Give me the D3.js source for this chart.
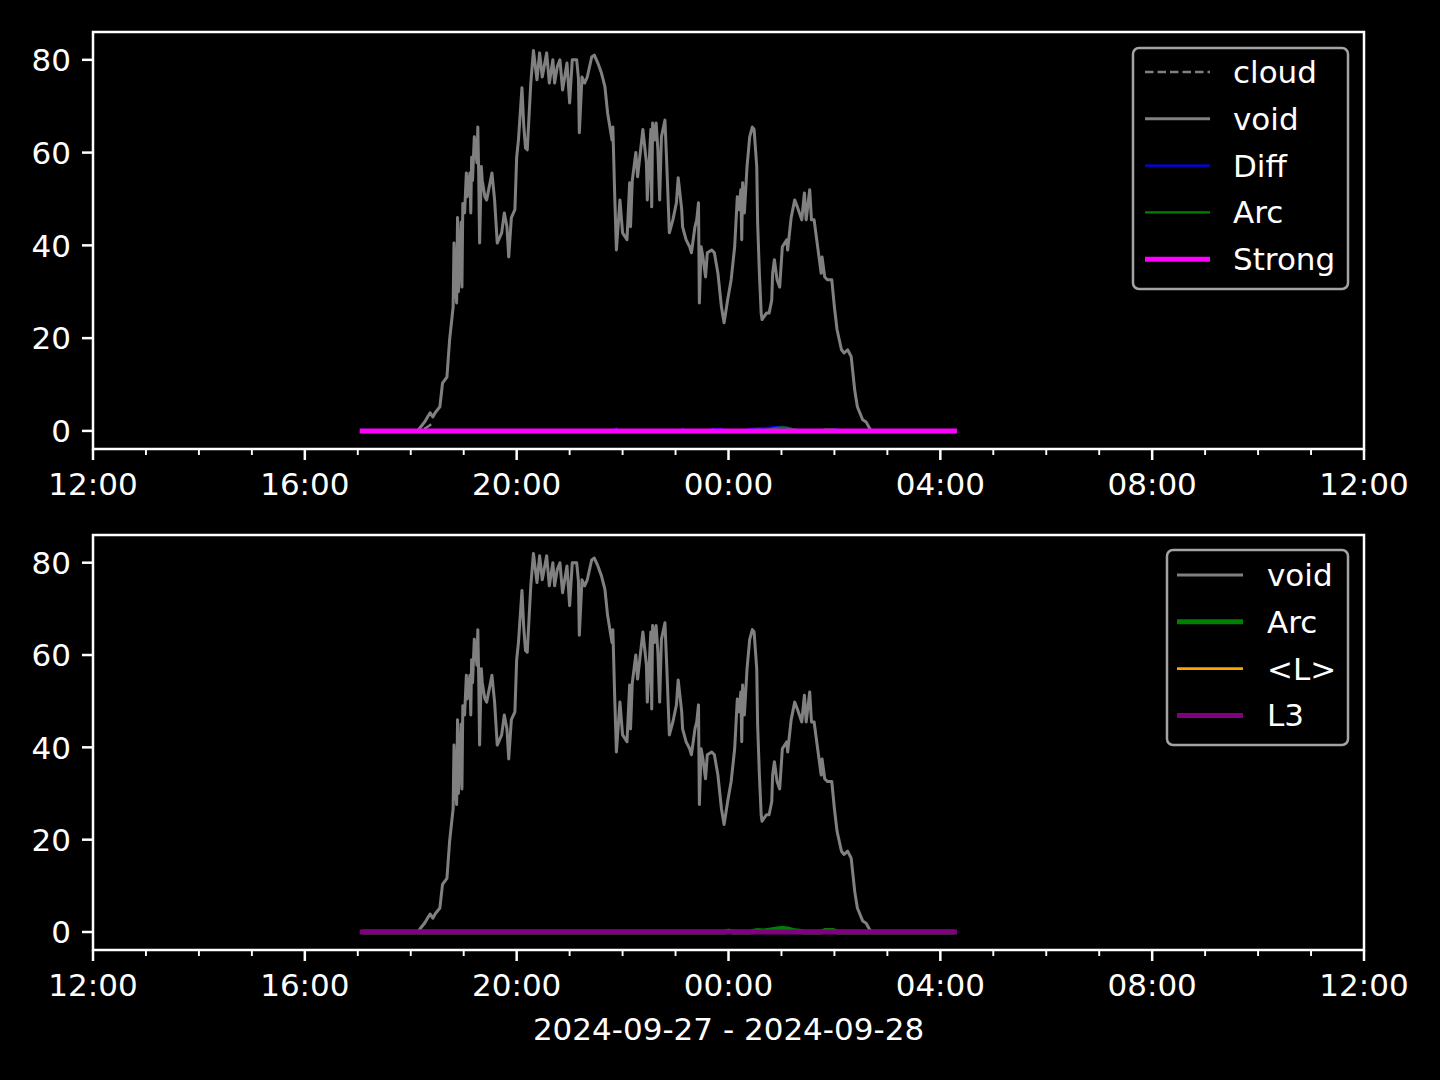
<!DOCTYPE html>
<html>
<head>
<meta charset="utf-8">
<script src="https://cdn.jsdelivr.net/npm/d3@7"></script>
<style>
  html, body { margin: 0; padding: 0; background: #000; }
  svg { display: block; }
  text { font-family: "DejaVu Sans", sans-serif; fill: #fff; }
</style>
</head>
<body>
<svg id="chart" width="1440" height="1080"></svg>
<script>
// ---------------- DATA ----------------
// times are minutes after 2024-09-27 12:00
const xStartLabel = "2024-09-27T12:00:00";
const xEndLabel = "2024-09-28T12:00:00";
const xLabel = "2024-09-27 - 2024-09-28";
const yTicks = [0, 20, 40, 60, 80];

const voidMinutes = [305,368,371,376,379,382,385,388,393,396,401,404,408,409,411,412,413,414,417,418,419,421,423,424,427,428,429,430,432,435,436,437,438,440,441,444,446,452,455,458,463,466,469,471,474,478,480,482,486,488,490,492,496,499,503,506,509,514,517,521,523,526,529,532,537,540,543,548,550,551,554,557,560,565,568,572,576,580,583,588,589,591,593,597,600,605,608,609,611,615,617,623,627,628,632,633,634,636,638,640,642,644,648,650,653,657,661,663,667,668,672,676,678,682,684,686,687,689,691,694,696,701,704,708,712,715,719,723,727,730,732,734,735,736,738,741,744,747,749,752,753,755,757,758,763,766,769,770,772,775,778,781,786,787,791,795,798,803,806,808,812,814,817,821,825,826,829,832,837,840,843,848,851,855,859,863,866,872,876,880,882,976];
const voidValues = [0,0,0.8,2.0,3.0,3.9,3.0,4.0,5.2,10.3,11.6,19.6,26.7,40.5,30,27.6,46,30,45,31,49,47,55.6,50.5,55.6,47,59,54,63.4,57.8,65.5,55,40.5,57,54,50.5,49.8,55.6,49.8,40.5,42.7,47,44,37.5,46,47.7,59,62.7,74,66,61,60.6,75,82,75.7,81.5,76.3,81.5,75,80,75,78.5,80,73.5,79.3,70.7,80,80,76,64.3,76.3,75,76.3,80.6,81,79.3,77.2,74.2,68.6,62.7,65.5,51.3,39,49.8,42.7,41.2,53.5,44,54,60,54.8,65,57.8,49.8,65,48.3,66.4,62.7,66.4,60.6,49.8,63.4,67,57.8,42.7,45.5,49.2,54.6,47.7,44,41.2,39.7,38.4,44,45.5,49.2,27.6,39.7,37.5,33.2,38.4,39,38.4,34,26.7,23.3,28.2,32.6,39.7,50.5,47.7,52,41.2,53.5,47,57,63.4,65.5,65,57,44.9,34,25.4,24,25.4,25.4,28.2,34,36.9,32.6,31,39.7,41.2,39,46,49.8,48.3,45.5,51.3,45.5,52,45.5,45.5,39.7,34,37.5,33.2,32.6,32.6,26.7,21.8,17.5,16.8,17.5,16,8.8,5.2,2.4,1.9,0.5,0,0];

const cloudMinutes = [305,372,380,386];
const cloudValues = [0,0,1.0,1.8];

const diffMinutes = [305,590,593,596,665,668,671,698,702,706,712,715,738,745,755,765,775,781,788,795,800,838,841,844,976];
const diffValues  = [0,0,0.6,0,0,0.5,0,0,0.5,0.3,0.5,0,0,0.5,0.6,0.7,0.9,0.9,0.6,0.3,0,0,0.5,0,0];

const arcMinutes = [305,715,720,725,745,752,760,768,775,781,787,793,800,805,825,830,838,843,976];
const arcValues  = [0,0,0.2,0,0,0.3,0.2,0.45,0.65,0.75,0.65,0.35,0.15,0,0,0.35,0.35,0,0];

const strongMinutes = [305,976];
const strongValues  = [0,0];
const avgLMinutes = [305,976];
const avgLValues  = [0,0];
const l3Minutes = [305,976];
const l3Values  = [0,0];

// ---------------- LAYOUT ----------------
const svg = d3.select("#chart");
const W = 1440, H = 1080;
svg.append("rect").attr("width", W).attr("height", H).attr("fill", "#000");

const left = 93, right = 1364;
const panels = [{top: 32, bottom: 449}, {top: 535, bottom: 950}];
const t0 = new Date(xStartLabel), t1 = new Date(xEndLabel);
const x = d3.scaleTime().domain([t0, t1]).range([left, right]);
const toDate = m => new Date(t0.getTime() + m * 60000);
const pts = (ms, vs) => ms.map((m, i) => ({t: toDate(m), v: vs[i]}));

const FS = 31;
const majorTicks = d3.timeHour.every(4).range(t0, new Date(t1.getTime() + 1));
const minorTicks = d3.timeHour.every(1).range(t0, new Date(t1.getTime() + 1))
  .filter(d => d.getHours() % 4 !== 0);
const fmt = d3.timeFormat("%H:%M");

function drawPanel(p, series, legendItems, legendBox) {
  const y = d3.scaleLinear().domain([-3.9, 86]).range([p.bottom, p.top]);
  const g = svg.append("g");
  const line = d3.line().x(d => x(d.t)).y(d => y(d.v));

  series.forEach(s => {
    g.append("path").datum(pts(s.m, s.v))
      .attr("d", line).attr("fill", "none")
      .attr("stroke", s.color).attr("stroke-width", s.w)
      .attr("stroke-dasharray", s.dash || null)
      .attr("stroke-linejoin", "round")
      .attr("stroke-linecap", s.cap || "butt");
  });

  // frame
  g.append("rect").attr("x", left).attr("y", p.top)
    .attr("width", right - left).attr("height", p.bottom - p.top)
    .attr("fill", "none").attr("stroke", "#fff").attr("stroke-width", 2.5);

  // x ticks
  majorTicks.forEach(d => {
    g.append("line").attr("x1", x(d)).attr("x2", x(d))
      .attr("y1", p.bottom).attr("y2", p.bottom + 11)
      .attr("stroke", "#fff").attr("stroke-width", 2.5);
    g.append("text").attr("x", x(d)).attr("y", p.bottom + 46)
      .attr("text-anchor", "middle").attr("font-size", FS).text(fmt(d));
  });
  minorTicks.forEach(d => {
    g.append("line").attr("x1", x(d)).attr("x2", x(d))
      .attr("y1", p.bottom).attr("y2", p.bottom + 6)
      .attr("stroke", "#fff").attr("stroke-width", 1.9);
  });
  // y ticks
  yTicks.forEach(v => {
    g.append("line").attr("x1", left - 11).attr("x2", left)
      .attr("y1", y(v)).attr("y2", y(v))
      .attr("stroke", "#fff").attr("stroke-width", 2.5);
    g.append("text").attr("x", left - 22).attr("y", y(v) + 11.3)
      .attr("text-anchor", "end").attr("font-size", FS).text(v);
  });

  // legend
  const lb = legendBox;
  g.append("rect").attr("x", lb.x).attr("y", lb.y).attr("width", lb.w).attr("height", lb.h)
    .attr("rx", 6).attr("fill", "#000").attr("stroke", "#a3a3a3").attr("stroke-width", 2.5);
  legendItems.forEach((it, i) => {
    const cy = lb.firstRow + i * 46.8;
    g.append("line").attr("x1", lb.hx1).attr("x2", lb.hx2).attr("y1", cy).attr("y2", cy)
      .attr("stroke", it.color).attr("stroke-width", it.w)
      .attr("stroke-dasharray", it.dash || null);
    g.append("text").attr("x", lb.tx).attr("y", cy + 11).attr("font-size", FS).text(it.label);
  });
}

const topSeries = [
  {label: "cloud", m: cloudMinutes, v: cloudValues, color: "#808080", w: 2.5, dash: "8.5,4"},
  {label: "void", m: voidMinutes, v: voidValues, color: "#808080", w: 3},
  {label: "Diff", m: diffMinutes, v: diffValues, color: "#0000ff", w: 2.2},
  {label: "Arc", m: arcMinutes, v: arcValues, color: "#008000", w: 2.2},
  {label: "Strong", m: strongMinutes, v: strongValues, color: "#ff00ff", w: 5, cap: "square"}
];
const botSeries = [
  {label: "void", m: voidMinutes, v: voidValues, color: "#808080", w: 3},
  {label: "Arc", m: arcMinutes, v: arcValues, color: "#008000", w: 5},
  {label: "<L>", m: avgLMinutes, v: avgLValues, color: "#ffa500", w: 2.8},
  {label: "L3", m: l3Minutes, v: l3Values, color: "#800080", w: 5, cap: "square"}
];

drawPanel(panels[0], topSeries, topSeries,
  {x: 1133, y: 48, w: 215, h: 241, firstRow: 72, hx1: 1145, hx2: 1210, tx: 1233});
drawPanel(panels[1], botSeries, botSeries,
  {x: 1167, y: 550, w: 181, h: 195, firstRow: 575, hx1: 1177, hx2: 1243, tx: 1267});

svg.append("text").attr("x", (left + right) / 2).attr("y", 1040)
  .attr("text-anchor", "middle").attr("font-size", FS).text(xLabel);
</script>
</body>
</html>
